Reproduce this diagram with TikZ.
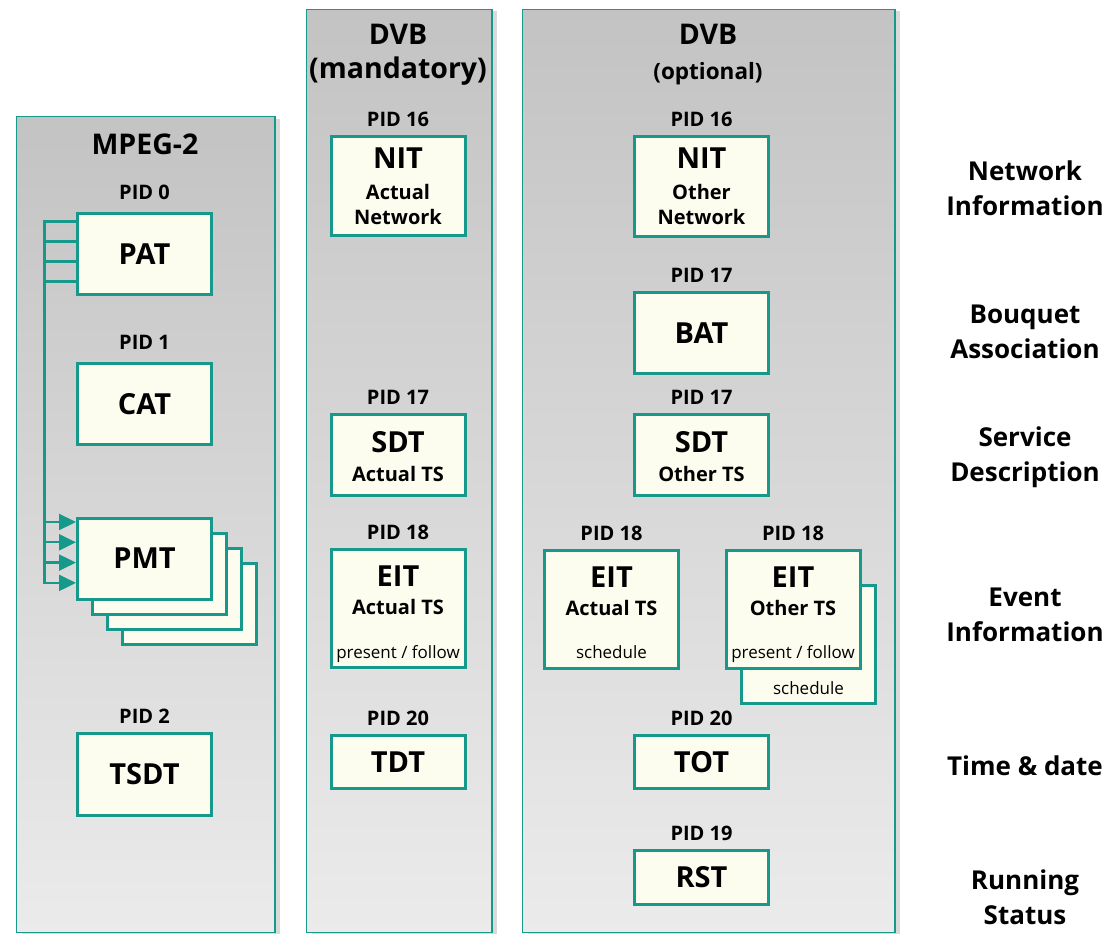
\documentclass[tikz,border=0pt]{standalone}
\usepackage{fontspec}
\setmainfont{Open Sans}
\usetikzlibrary{arrows.meta,positioning,calc,shadows}

\definecolor{tealc}{HTML}{16998A}
\definecolor{ivory}{HTML}{FCFDEE}
\definecolor{paneltop}{HTML}{C3C3C3}
\definecolor{panelbot}{HTML}{EBEBEB}

\newcommand\bigf{\fontsize{29}{32}\selectfont\bfseries}
\newcommand\subf{\fontsize{20}{25}\selectfont\bfseries}
\newcommand\notef{\fontsize{17}{20}\selectfont}
\newcommand\sidef{\fontsize{26}{35}\selectfont\bfseries}

\begin{document}
\begin{tikzpicture}[x=1pt, y=-1pt,
  panel/.style={draw=tealc, line width=1.5pt, top color=paneltop, bottom color=panelbot,
    drop shadow={shadow xshift=5pt, shadow yshift=-2pt, opacity=.3}},
  tbl/.style={draw=tealc, line width=3pt, fill=ivory, minimum width=134pt, inner sep=0pt, font=\bigf},
  txt/.style={inner sep=0pt, align=center, font=\subf},
  pid/.style={inner sep=0pt, font=\subf},
  note/.style={inner sep=0pt, font=\notef},
  head/.style={inner sep=0pt, font=\fontsize{28.5}{32}\selectfont\bfseries},
  side/.style={inner sep=0pt, align=center, font=\sidef},
  link/.style={draw=tealc, line width=2.3pt},
  arr/.style={link, -{Triangle[length=17pt, width=16pt]}}
]
\useasboundingbox (0,0) rectangle (1120,934);

% columns
\node[panel, anchor=north west, minimum width=258.5, minimum height=816] (mpeg) at (15.75,115.75) {};
\node[panel, anchor=north west, minimum width=185.5, minimum height=923] (dvbM) at (305.75,8.75) {};
\node[panel, anchor=north west, minimum width=372.5, minimum height=923] (dvbO) at (521.75,8.75) {};
\node[head, anchor=base] (mpegT) at (145,154) {MPEG-2};
\node[head, anchor=base] (dvbMT) at (398,45) {DVB};
\node[head, anchor=base] (dvbMS) at (398,79) {(mandatory)};
\node[head, anchor=base] (dvbOT) at (708,45) {DVB};
\node[head, anchor=base, font=\fontsize{22.5}{26}\selectfont\bfseries] (dvbOS) at (708,80) {(optional)};

% MPEG-2 tables
\node[tbl, minimum height=81] (pat) at (144.5,254) {PAT};
\node[tbl, minimum height=81] (cat) at (144.5,404) {CAT};
\foreach \i in {3,2,1}
  \node[tbl, minimum height=81] (pmt\i) at (144.5+15*\i,558.5+15*\i) {};
\node[tbl, minimum height=81] (pmt) at (144.5,558.5) {PMT};
\node[tbl, minimum height=82] (tsdt) at (144.5,774.5) {TSDT};
\node[pid, above=12pt of pat] (pid0) {PID 0};
\node[pid, above=12pt of cat] (pid1) {PID 1};
\node[pid, above=8pt of tsdt] (pid2) {PID 2};
\foreach \i in {0,...,3}
  \draw[arr] ($(pat.north west)+(0,9.5+20*\i)$) -- ++(-31.5,0) |- ($(pmt.north west)+(0,5.5+20.3*\i)$);

% DVB mandatory
\node[tbl, minimum height=99] (nitA) at (398,186) {};
\node[txt, below=13pt of nitA.north] (nitAt) {{\bigf NIT}\\[6pt]Actual\\Network};
\node[tbl, minimum height=81] (sdtA) at (398,455) {};
\node[txt, below=18pt of sdtA.north] (sdtAt) {{\bigf SDT}\\[4pt]Actual TS};
\node[tbl, minimum height=118] (eitA) at (398,608.5) {};
\node[txt, below=18pt of eitA.north] (eitAt) {{\bigf EIT}\\[3pt]Actual TS};
\node[note, anchor=base] (eitAn) at ($(eitA.south)+(0,-11)$) {present / follow};
\node[tbl, minimum height=53] (tdt) at (398,762) {TDT};
\node[pid, above=8pt of nitA] (pid16A) {PID 16};
\node[pid, above=8pt of sdtA] (pid17A) {PID 17};
\node[pid, above=8pt of eitA] (pid18A) {PID 18};
\node[pid, above=8pt of tdt] (pid20A) {PID 20};

% DVB optional
\node[tbl, minimum height=100] (nitO) at (701.5,186.5) {};
\node[txt, below=13pt of nitO.north] (nitOt) {{\bigf NIT}\\[6pt]Other\\Network};
\node[tbl, minimum height=81] (bat) at (701.5,333) {BAT};
\node[tbl, minimum height=81] (sdtO) at (701.5,455) {};
\node[txt, below=18pt of sdtO.north] (sdtOt) {{\bigf SDT}\\[4pt]Other TS};
\node[tbl, minimum height=118] (eitX) at (611.5,609) {};
\node[txt, below=18pt of eitX.north] (eitXt) {{\bigf EIT}\\[3pt]Actual TS};
\node[note, anchor=base] (eitXn) at ($(eitX.south)+(0,-11)$) {schedule};
\node[tbl, minimum height=118] (eitOb) at (808.5,644.5) {};
\node[note, anchor=base] (eitObn) at ($(eitOb.south)+(0,-11)$) {schedule};
\node[tbl, minimum height=118] (eitO) at (793,609) {};
\node[txt, below=18pt of eitO.north] (eitOt) {{\bigf EIT}\\[3pt]Other TS};
\node[note, anchor=base] (eitOn) at ($(eitO.south)+(0,-11)$) {present / follow};
\node[tbl, minimum height=53] (tot) at (701.5,762) {TOT};
\node[tbl, minimum height=54] (rst) at (701.5,877.5) {RST};
\node[pid, above=8pt of nitO] (pid16O) {PID 16};
\node[pid, above=8pt of bat] (pid17B) {PID 17};
\node[pid, above=8pt of sdtO] (pid17O) {PID 17};
\node[pid, above=8pt of eitX] (pid18X) {PID 18};
\node[pid, above=8pt of eitO] (pid18O) {PID 18};
\node[pid, above=8pt of tot] (pid20O) {PID 20};
\node[pid, above=8pt of rst] (pid19O) {PID 19};

% row captions
\node[side] (capNet) at (1025,188.5) {Network\\Information};
\node[side] (capBq) at (1025,331.5) {Bouquet\\Association};
\node[side] (capSrv) at (1025,457.5) {Service\\Description};
\node[side] (capEv) at (1025,614.5) {Event\\Information};
\node[side] (capTd) at (1025,766) {Time \& date};
\node[side] (capRun) at (1025,897.5) {Running\\Status};
\end{tikzpicture}
\end{document}
